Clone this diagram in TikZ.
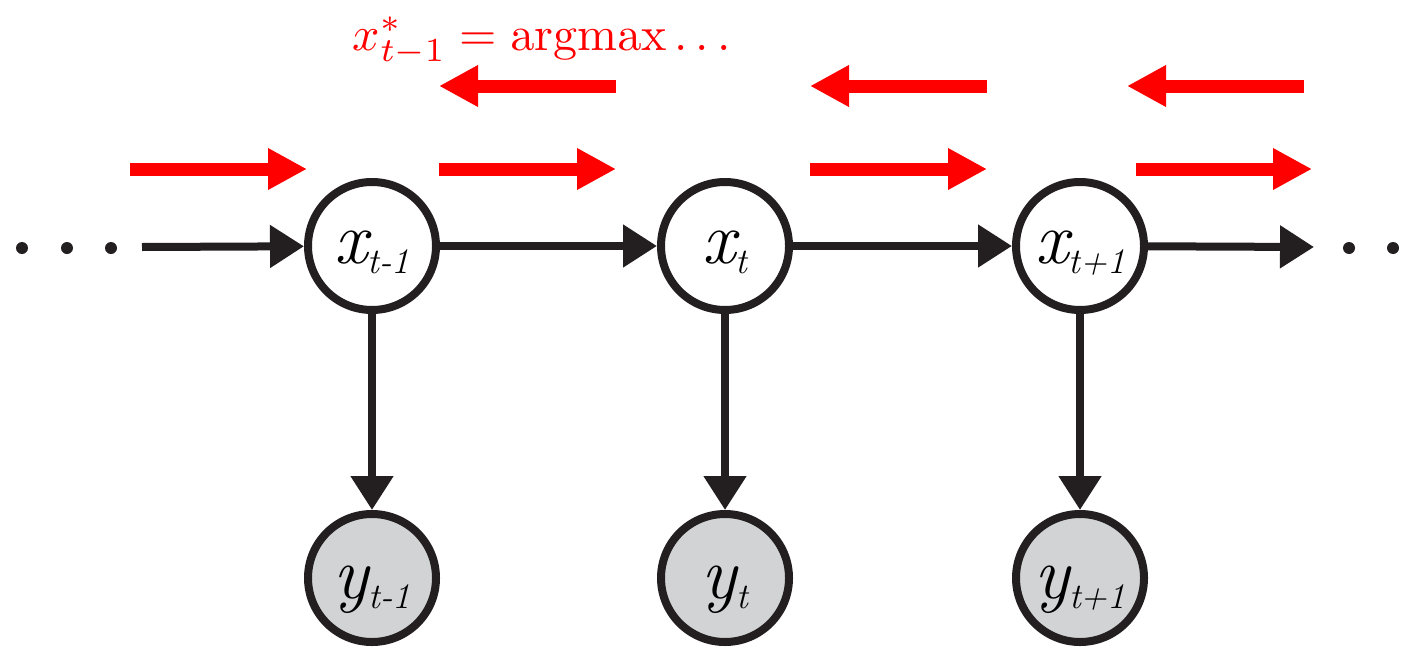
\documentclass[tikz,border=0pt]{standalone}
\usetikzlibrary{arrows.meta}
\definecolor{ink}{HTML}{231F20}
\definecolor{obsfill}{HTML}{D1D3D4}
\definecolor{msgred}{HTML}{FF0000}
\newcommand{\vlab}[2]{{\itshape\fontsize{37}{37}\selectfont #1\raisebox{-5pt}{\fontsize{18}{18}\selectfont #2}}}
\tikzset{
  hid/.style={circle, draw=ink, line width=4pt, fill=white, minimum size=64pt, inner sep=0pt, text height=20pt, text depth=3pt},
  obs/.style={circle, draw=ink, line width=4pt, fill=obsfill, minimum size=64pt, inner sep=0pt, text height=22pt, text depth=2pt},
  dotnode/.style={circle, fill=ink, inner sep=0pt, minimum size=6pt},
  edge/.style={draw=ink, line width=4pt, -{Triangle[length=17pt,width=20.5pt]}},
  msg/.style={draw=msgred, line width=6.5pt, -{Triangle[length=19.5pt,width=19.5pt]}},
}
\begin{document}
\begin{tikzpicture}[x=0.5pt,y=-0.5pt]
\useasboundingbox (0,0) rectangle (1427,648);
% hidden nodes
\node[hid] (x1) at (372,246) {\vlab{x}{t-1}};
\node[hid] (x2) at (725,246) {\vlab{x}{t}};
\node[hid] (x3) at (1080,246) {\vlab{x}{t+1}};
% observed nodes
\node[obs] (y1) at (372,578) {\vlab{y}{t-1}};
\node[obs] (y2) at (725,578) {\vlab{y}{t}};
\node[obs] (y3) at (1080,578) {\vlab{y}{t+1}};
% dots
\node[dotnode] (dl1) at (22,248) {};
\node[dotnode] (dl2) at (67,248) {};
\node[dotnode] (dl3) at (111,248) {};
\node[dotnode] (dr1) at (1349,248) {};
\node[dotnode] (dr2) at (1393,248) {};
\coordinate (lin) at (142,247);
\coordinate (rout) at (1314,247);
% chain edges
\draw[edge] (lin) -- (x1);
\draw[edge] (x1) -- (x2);
\draw[edge] (x2) -- (x3);
\draw[edge] (x3) -- (rout);
\draw[edge] (x1) -- (y1);
\draw[edge] (x2) -- (y2);
\draw[edge] (x3) -- (y3);
% forward messages
\coordinate (f1a) at (130,169); \coordinate (f1b) at (307,169);
\coordinate (f2a) at (439,169); \coordinate (f2b) at (616,169);
\coordinate (f3a) at (810,169); \coordinate (f3b) at (987,169);
\coordinate (f4a) at (1136,169); \coordinate (f4b) at (1312,169);
\draw[msg] (f1a) -- (f1b);
\draw[msg] (f2a) -- (f2b);
\draw[msg] (f3a) -- (f3b);
\draw[msg] (f4a) -- (f4b);
% backward messages
\coordinate (b1a) at (616,86); \coordinate (b1b) at (439,86);
\coordinate (b2a) at (987,86); \coordinate (b2b) at (810,86);
\coordinate (b3a) at (1304,86); \coordinate (b3b) at (1127,86);
\draw[msg] (b1a) -- (b1b);
\draw[msg] (b2a) -- (b2b);
\draw[msg] (b3a) -- (b3b);
% label
\node[anchor=base west, inner sep=0pt, text=msgred, scale=2.4] (argmax) at (352,50) {$x^*_{t-1} = \mathrm{argmax}\ldots$};
\end{tikzpicture}
\end{document}
